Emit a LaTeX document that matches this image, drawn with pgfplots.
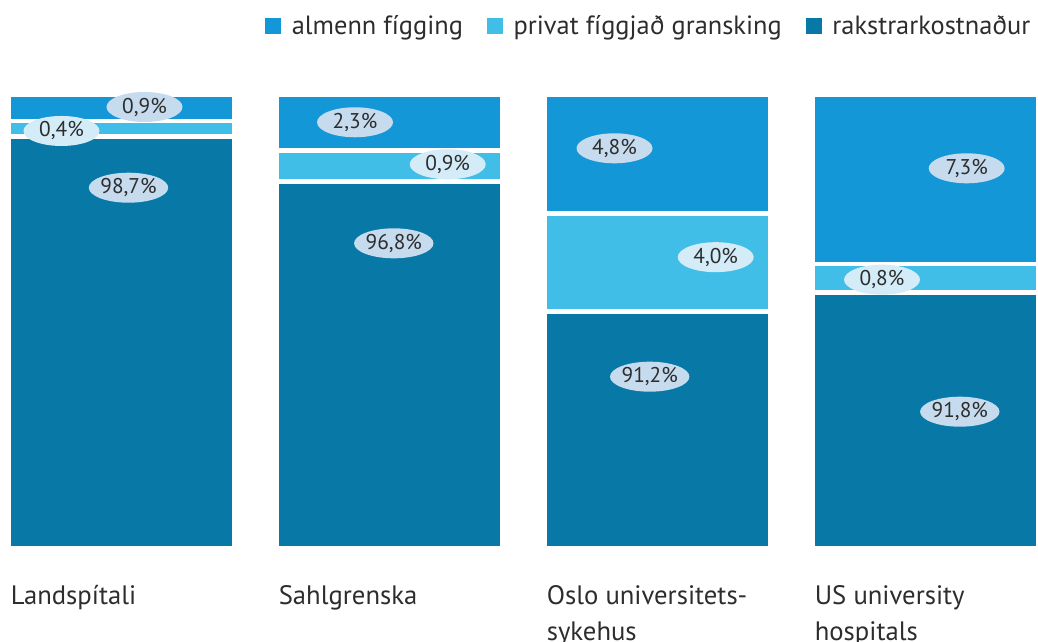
\documentclass[border=0pt]{standalone}
\usepackage{pgfplots}
\pgfplotsset{compat=1.18}
\usepackage{fontspec}
\setmainfont{PT Sans}
\usetikzlibrary{shapes.geometric}
\definecolor{cmid}{HTML}{1497D7}
\definecolor{clight}{HTML}{40BEE7}
\definecolor{cdark}{HTML}{0878A6}
\definecolor{cellA}{HTML}{C6DBEE}
\definecolor{cellB}{HTML}{D3ECF8}
\definecolor{ctext}{HTML}{2D2D2D}
\tikzset{lbl/.style={ellipse, fill=cellA, minimum width=57pt, minimum height=22.5pt, inner sep=0pt, text=ctext, font=\fontsize{16}{19}\selectfont}}
\begin{document}
\begin{tikzpicture}
\path[use as bounding box] (0,-70.3125pt) rectangle (778.5pt,411.1875pt);
\begin{axis}[
  at={(0,0)}, anchor=south west,
  scale only axis, width=778.5pt, height=340.125pt,
  xmin=-0.453358, xmax=3.419776, ymin=0, ymax=100,
  clip=false,
  ybar stacked, bar width=169.125pt,
  hide y axis, axis x line*=bottom, x axis line style={draw=none}, xtick style={draw=none},
  xtick={0,1,2,3},
  xticklabels={Landspítali, Sahlgrenska, {Oslo universitets-\\sykehus}, {US university\\hospitals}},
  xticklabel style={font=\fontsize{20}{27}\selectfont, align=left, anchor=north west, inner sep=0pt, xshift=-83.2pt, yshift=-27.5pt, text=ctext},
  every axis plot/.append style={draw=white, line width=3.375pt},
  legend columns=3, reverse legend,
  legend image code/.code={\fill[#1,draw=none] (0pt,-6pt) rectangle (12pt,6pt);},
  legend style={draw=none, fill=none, font=\fontsize{19.8}{24}\selectfont, text=ctext,
    at={(0.2555,1.1523)}, anchor=west, inner sep=0pt, outer sep=0pt,
    nodes={inner sep=0pt},
    /tikz/every odd column/.append style={column sep=8pt},
    /tikz/every even column/.append style={column sep=18pt}},
  legend cell align=left,
]
% drawn segment heights (share of bar height as drawn)
\addplot[fill=cdark] coordinates {(0,90.79) (1,80.87) (2,52.21) (3,56.39)};
\addplot[fill=clight] coordinates {(0,3.42) (1,6.84) (2,21.61) (3,6.28)};
\addplot[fill=cmid] coordinates {(0,5.79) (1,12.29) (2,26.18) (3,37.33)};
\legend{rakstrarkostnaður, privat fíggjað gransking, almenn fígging}
\coordinate (l1) at (axis cs:0.0858,97.30);
\coordinate (l2) at (axis cs:-0.2239,92.01);
\coordinate (l3) at (axis cs:0.0261,79.50);
\coordinate (l4) at (axis cs:0.8713,93.93);
\coordinate (l5) at (axis cs:1.2172,84.66);
\coordinate (l6) at (axis cs:1.0160,67.24);
\coordinate (l7) at (axis cs:1.8396,88.19);
\coordinate (l8) at (axis cs:2.2172,64.18);
\coordinate (l9) at (axis cs:1.9709,37.83);
\coordinate (l10) at (axis cs:3.1537,83.78);
\coordinate (l11) at (axis cs:2.8377,59.22);
\coordinate (l12) at (axis cs:3.1280,30.11);
\end{axis}
\node[lbl] at (l1) {0,9\%};
\node[lbl, fill=cellB] at (l2) {0,4\%};
\node[lbl] at (l3) {98,7\%};
\node[lbl] at (l4) {2,3\%};
\node[lbl, fill=cellB] at (l5) {0,9\%};
\node[lbl] at (l6) {96,8\%};
\node[lbl] at (l7) {4,8\%};
\node[lbl, fill=cellB] at (l8) {4,0\%};
\node[lbl] at (l9) {91,2\%};
\node[lbl] at (l10) {7,3\%};
\node[lbl, fill=cellB] at (l11) {0,8\%};
\node[lbl] at (l12) {91,8\%};
\end{tikzpicture}
\end{document}
